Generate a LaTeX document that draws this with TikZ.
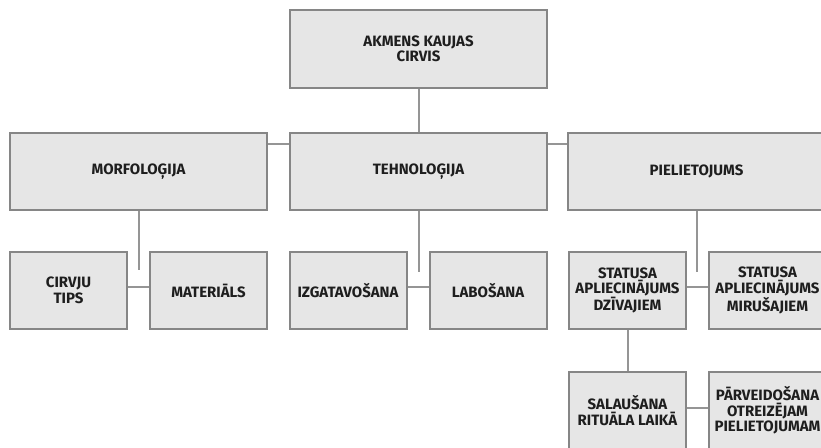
\documentclass[tikz,border=0pt]{standalone}
\usepackage{fontspec}
\setmainfont{Fira Sans}[BoldFont={Fira Sans Bold}]
\definecolor{boxfill}{HTML}{E6E6E6}
\definecolor{boxline}{HTML}{868686}
\definecolor{conline}{HTML}{959595}
\definecolor{txt}{HTML}{1E1E1E}
\begin{document}
\begin{tikzpicture}[x=1pt,y=-1pt,
  box/.style={draw=boxline, line width=2pt, fill=boxfill, inner sep=0pt,
    minimum height=77pt, align=center, text=txt,
    font=\fontsize{15}{15.5}\selectfont\bfseries},
  wide/.style={box, minimum width=257pt},
  narrow/.style={box, minimum width=117pt},
  con/.style={draw=conline, line width=2pt}]
\useasboundingbox (0,0) rectangle (821,447);
\clip (0,0) rectangle (821,447);
\fill[white] (0,0) rectangle (821,447);
% level 1
\node[wide, minimum height=78pt] (top) at (418.5,49) {AKMENS KAUJAS\\CIRVIS};
% level 2
\node[wide] (morf) at (138.5,171.5) {MORFOLOĢIJA};
\node[wide] (tehn) at (418.5,171.5) {TEHNOLOĢIJA};
\node[wide] (piel) at (696.5,171.5) {PIELIETOJUMS};
% level 3
\node[narrow] (cirv) at (68.5,290.5) {CIRVJU\\TIPS};
\node[narrow] (mat) at (208.5,290.5) {MATERIĀLS};
\node[narrow] (izg) at (348,290.5) {IZGATAVOŠANA};
\node[narrow] (lab) at (488,290.5) {LABOŠANA};
\node[narrow] (dziv) at (627.5,290.5) {STATUSA\\APLIECINĀJUMS\\DZĪVAJIEM};
\node[narrow] (mir) at (767.5,290.5) {STATUSA\\APLIECINĀJUMS\\MIRUŠAJIEM};
% level 4
\node[narrow] (sal) at (627.5,410.5) {SALAUŠANA\\RITUĀLA LAIKĀ};
\node[narrow] (parv) at (767.5,410.5) {PĀRVEIDOŠANA\\OTREIZĒJAM\\PIELIETOJUMAM};
% stub ends
\coordinate (m1) at (138.5,270);
\coordinate (t1) at (418.5,272);
\coordinate (p1) at (696.5,272);
% connectors
\draw[con] (top.south) -- (tehn.north);
\draw[con] ([yshift=-12pt]morf.north east) -- ([yshift=-12pt]tehn.north west);
\draw[con] ([yshift=-12pt]tehn.north east) -- ([yshift=-12pt]piel.north west);
\draw[con] (morf.south) -- (m1);
\draw[con] (tehn.south) -- (t1);
\draw[con] (piel.south) -- (p1);
\draw[con] ([yshift=3.5pt]cirv.east) -- ([yshift=3.5pt]mat.west);
\draw[con] ([yshift=3.5pt]izg.east) -- ([yshift=3.5pt]lab.west);
\draw[con] ([yshift=3.5pt]dziv.east) -- ([yshift=3.5pt]mir.west);
\draw[con] (dziv.south) -- (sal.north);
\draw[con] ([yshift=2.5pt]sal.east) -- ([yshift=2.5pt]parv.west);
\end{tikzpicture}
\end{document}
